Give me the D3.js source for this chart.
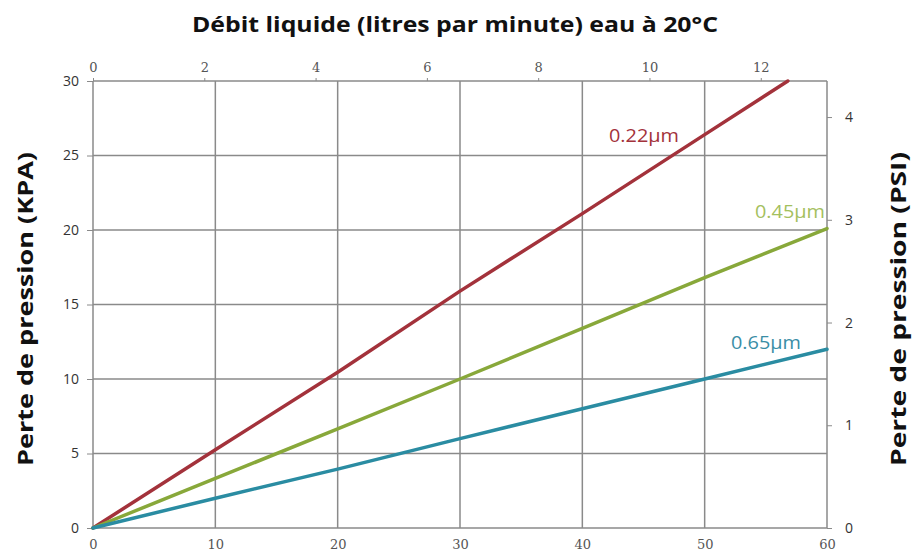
<!DOCTYPE html>
<html><head><meta charset="utf-8">
<script src="https://cdn.jsdelivr.net/npm/d3@7"></script>
<style>
body{margin:0;background:#fff;}
svg{display:block;}
</style></head>
<body>
<svg id="chart" width="915" height="558"></svg>
<script>
// ---- data ----
const flowLpm = [0, 10, 20, 30, 40, 50, 60];
const series022 = { name: "0.22µm", x: [0, 10, 20, 30, 40, 50, 56.8], y: [0, 5.25, 10.45, 15.9, 21.1, 26.4, 30] };
const series045 = { name: "0.45µm", x: [0, 10, 20, 30, 40, 50, 60], y: [0, 3.33, 6.65, 10.0, 13.4, 16.8, 20.1] };
const series065 = { name: "0.65µm", x: [0, 10, 20, 30, 40, 50, 60], y: [0, 2.0, 3.95, 6.0, 8.0, 10.0, 12.0] };
const bottomTicks = [0, 10, 20, 30, 40, 50, 60];
const topTicks = [0, 2, 4, 6, 8, 10, 12];
const leftTicks = [0, 5, 10, 15, 20, 25, 30];
const rightTicks = [0, 1, 2, 3, 4];
const titleTop = "Débit liquide (litres par minute) eau à 20°C";
const titleLeft = "Perte de pression (KPA)";
const titleRight = "Perte de pression (PSI)";

// ---- layout ----
const L = 93, R = 827, T = 81, B = 528;
const svg = d3.select("#chart");
const x = d3.scaleLinear().domain([0, 60]).range([L, R]);
const xTop = d3.scaleLinear().domain([0, 13.19]).range([L, R]);
const y = d3.scaleLinear().domain([0, 30]).range([B, T]);
const yR = d3.scaleLinear().domain([0, 4.351]).range([B, T]);

const gridColor = "#8a8a8a";
// grid
svg.append("g").selectAll("line").data(bottomTicks).join("line")
  .attr("x1", d => x(d)).attr("x2", d => x(d)).attr("y1", T).attr("y2", B)
  .attr("stroke", gridColor).attr("stroke-width", 1.5);
svg.append("g").selectAll("line").data(leftTicks).join("line")
  .attr("x1", L).attr("x2", R).attr("y1", d => y(d)).attr("y2", d => y(d))
  .attr("stroke", gridColor).attr("stroke-width", 1.5);

// axes
const serif = "'DejaVu Serif', 'Liberation Serif', serif";
const sans = "'Open Sans', 'Liberation Sans', sans-serif";
function styleAxis(g, font, size, color) {
  g.select(".domain").remove();
  g.selectAll(".tick line").attr("stroke", gridColor).attr("stroke-width", 1);
  g.selectAll(".tick text").attr("font-family", font).attr("font-size", size).attr("fill", color);
}
svg.append("g").attr("transform", `translate(0,${B})`)
  .call(d3.axisBottom(x).tickValues(bottomTicks).tickSize(0).tickPadding(12))
  .call(g => styleAxis(g, serif, 13, "#555"));
svg.append("g").attr("transform", `translate(0,${T})`)
  .call(d3.axisTop(xTop).tickValues(topTicks).tickSize(3).tickPadding(6))
  .call(g => styleAxis(g, serif, 13, "#555"));
svg.append("g").attr("transform", `translate(${L},0)`)
  .call(d3.axisLeft(y).tickValues(leftTicks).tickSize(6).tickPadding(8))
  .call(g => styleAxis(g, sans, 14, "#333"));
svg.append("g").attr("transform", `translate(${R},0)`)
  .call(d3.axisRight(yR).tickValues(rightTicks).tickFormat(d3.format("d")).tickSize(5).tickPadding(13))
  .call(g => styleAxis(g, sans, 14, "#333"));

// lines
const seriesList = [
  { s: series022, color: "#a3323b", label: "#a3323b", lx: 609, ly: 142 },
  { s: series045, color: "#88a83a", label: "#a4c05e", lx: 755, ly: 218 },
  { s: series065, color: "#2a8ca2", label: "#3a8ea6", lx: 731, ly: 349 }
];
const line = d3.line().x(d => x(d[0])).y(d => y(d[1]));
seriesList.forEach(o => {
  const pts = o.s.x.map((v, i) => [v, o.s.y[i]]);
  svg.append("path").datum(pts).attr("d", line)
    .attr("fill", "none").attr("stroke", o.color).attr("stroke-width", 3.5)
    .attr("stroke-linecap", "round");
  svg.append("text").attr("x", o.lx).attr("y", o.ly).text(o.s.name)
    .attr("font-family", "'Open Sans', sans-serif").attr("font-weight", 500)
    .attr("font-size", 18).attr("fill", o.label)
    .attr("textLength", 70).attr("lengthAdjust", "spacingAndGlyphs");
});

// titles
const titleFont = "'Open Sans', Lato, sans-serif";
svg.append("text").attr("x", 455).attr("y", 32).attr("text-anchor", "middle")
  .attr("font-family", titleFont).attr("font-weight", 700).attr("font-size", 22)
  .attr("fill", "#111").attr("textLength", 526).attr("lengthAdjust", "spacingAndGlyphs")
  .text(titleTop);
svg.append("text").attr("transform", "translate(33,309) rotate(-90)").attr("text-anchor", "middle")
  .attr("font-family", titleFont).attr("font-weight", 700).attr("font-size", 22)
  .attr("fill", "#111").attr("textLength", 314).attr("lengthAdjust", "spacingAndGlyphs")
  .text(titleLeft);
svg.append("text").attr("transform", "translate(906,309) rotate(-90)").attr("text-anchor", "middle")
  .attr("font-family", titleFont).attr("font-weight", 700).attr("font-size", 22)
  .attr("fill", "#111").attr("textLength", 314).attr("lengthAdjust", "spacingAndGlyphs")
  .text(titleRight);
</script>
</body></html>
